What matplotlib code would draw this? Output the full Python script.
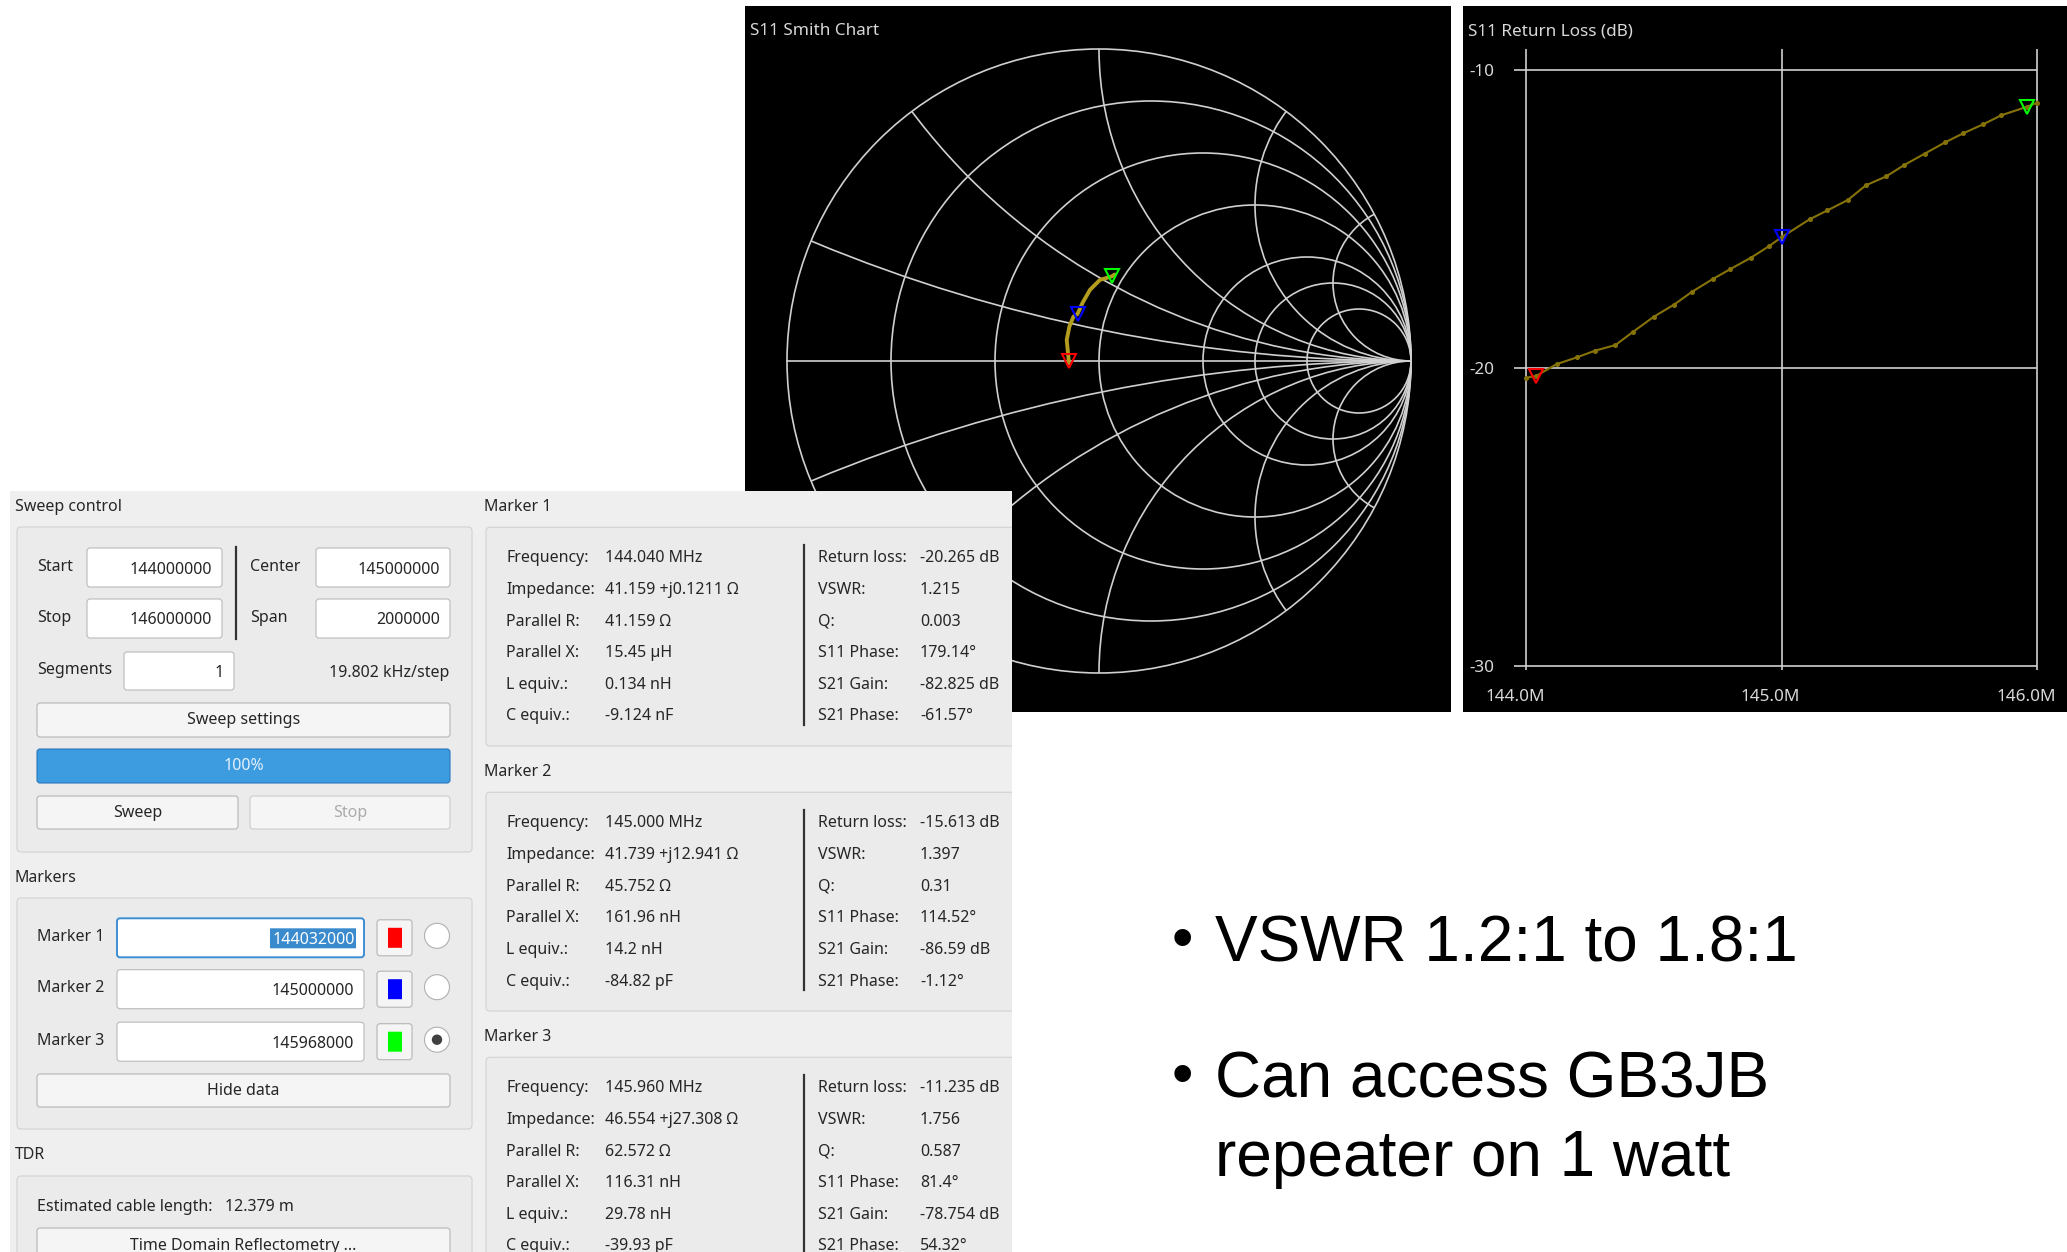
import numpy as np
import matplotlib
matplotlib.use("Agg")
import matplotlib.pyplot as plt
from matplotlib.patches import Circle, Rectangle, FancyBboxPatch

W, H, DPI = 2067, 1252, 100

# ---------------- data ----------------
# S11 trace on the Smith chart (impedance in ohms, 144 -> 146 MHz)
TRACE_R = [41.05, 41.159, 40.29, 40.41, 40.86, 41.739, 42.10, 42.64, 43.92, 46.554, 47.00]
TRACE_X = [-0.60, 0.1211, 5.51, 9.08, 11.92, 12.941, 16.30, 20.53, 24.49, 27.308, 28.30]

# S11 return loss sweep
RL_FREQ_MHZ = [144.00, 144.04, 144.12, 144.20, 144.27, 144.35, 144.42, 144.50, 144.58,
               144.65, 144.73, 144.80, 144.88, 144.95, 145.00, 145.11, 145.18, 145.26,
               145.33, 145.41, 145.48, 145.56, 145.64, 145.71, 145.79, 145.86, 145.96, 146.00]
RL_DB = [-20.33, -20.265, -19.87, -19.64, -19.42, -19.23, -18.78, -18.28, -17.87,
         -17.44, -17.02, -16.68, -16.30, -15.92, -15.613, -15.01, -14.71, -14.36,
         -13.87, -13.57, -13.19, -12.81, -12.43, -12.13, -11.82, -11.52, -11.235, -11.10]

# markers
MARKER_FREQ_MHZ = [144.040, 145.000, 145.960]
MARKER_R = [41.159, 41.739, 46.554]
MARKER_X = [0.1211, 12.941, 27.308]
MARKER_RL_DB = [-20.265, -15.613, -11.235]
MARKER_COLORS = ['#ff0000', '#0000ff', '#00ff00']
MARKER_FIELDS = ['144032000', '145000000', '145968000']

PARALLEL_R = ['41.159 Ω', '45.752 Ω', '62.572 Ω']
PARALLEL_X = ['15.45 µH', '161.96 nH', '116.31 nH']
L_EQUIV = ['0.134 nH', '14.2 nH', '29.78 nH']
C_EQUIV = ['-9.124 nF', '-84.82 pF', '-39.93 pF']
VSWR = ['1.215', '1.397', '1.756']
Q_VALUES = ['0.003', '0.31', '0.587']
S11_PHASE = ['179.14°', '114.52°', '81.4°']
S21_GAIN = ['-82.825 dB', '-86.59 dB', '-78.754 dB']
S21_PHASE = ['-61.57°', '-1.12°', '54.32°']

SMITH_R_CIRCLES = [0.2, 0.5, 1.0, 2.0, 3.0, 5.0]
SMITH_X_ARCS = [0.2, 0.5, 1.0, 2.0, 4.0]

RL_XTICKS = [144.0, 145.0, 146.0]
RL_YTICKS = [-10, -20, -30]

SWEEP_START, SWEEP_STOP = '144000000', '146000000'
SWEEP_CENTER, SWEEP_SPAN = '145000000', '2000000'
BULLETS = [["VSWR 1.2:1 to 1.8:1"], ["Can access GB3JB", "repeater on 1 watt"]]

# ---------------- style ----------------
GUI_FONT = ['Noto Sans', 'DejaVu Sans']
SLIDE_FONT = ['Liberation Sans', 'DejaVu Sans']
GUI_FS = 11.5
CHART_FS = 12.3
GRID = '#d0d0d0'
CHART_TXT = '#d8d8d8'
TRACE_C = '#b39c1e'
RL_C = '#857208'


def fig_rect(x0, y0, x1, y1):
    return [x0 / W, 1 - y1 / H, (x1 - x0) / W, (y1 - y0) / H]


def gamma(r, x, z0=50.0):
    z = (np.asarray(r) + 1j * np.asarray(x)) / z0
    return (z - 1) / (z + 1)


fig = plt.figure(figsize=(W / DPI, H / DPI), dpi=DPI, facecolor='white')

# ---------------- Smith chart ----------------
SM_L, SM_T, SM_R, SM_B = 745, 6, 1451, 712
SM_CX, SM_CY, SM_RAD = 1099, 361, 312
sm = fig.add_axes(fig_rect(SM_L, SM_T, SM_R, SM_B), zorder=1)
sm.set_facecolor('black')
sm.set_xlim(-(SM_CX - SM_L) / SM_RAD, (SM_R - SM_CX) / SM_RAD)
sm.set_ylim(-(SM_B - SM_CY) / SM_RAD, (SM_CY - SM_T) / SM_RAD)
sm.set_xticks([]); sm.set_yticks([])
for s in sm.spines.values():
    s.set_visible(False)

glw = 1.2
unit_clip = Circle((0, 0), 1.0, transform=sm.transData)
sm.add_patch(Circle((0, 0), 1.0, fill=False, ec=GRID, lw=glw))
sm.plot([-1, 1], [0, 0], color=GRID, lw=glw)
for r in SMITH_R_CIRCLES:
    sm.add_patch(Circle((r / (1 + r), 0), 1 / (1 + r), fill=False, ec=GRID, lw=glw))
for x in SMITH_X_ARCS:
    for sgn in (1, -1):
        arc = Circle((1, sgn / x), 1 / x, fill=False, ec=GRID, lw=glw)
        sm.add_patch(arc)
        arc.set_clip_path(unit_clip)

g = gamma(TRACE_R, TRACE_X)
sm.plot(g.real, g.imag, color=TRACE_C, lw=2.8, solid_capstyle='round', solid_joinstyle='round')
gm = gamma(MARKER_R, MARKER_X)
for gi, c in zip(gm, MARKER_COLORS):
    sm.plot([gi.real], [gi.imag], marker='v', ms=9.5, mfc='none', mec=c, mew=1.5)

# ---------------- Return loss chart ----------------
RL_L, RL_T, RL_R, RL_B = 1463, 6, 2067, 712
PX_F0, PX_F1 = 1526, 2037      # 144 MHz, 146 MHz
PX_D10, PX_D30 = 70, 666       # -10 dB, -30 dB
ppm = (PX_F1 - PX_F0) / 2.0
ppd = (PX_D30 - PX_D10) / 20.0
rl = fig.add_axes(fig_rect(RL_L, RL_T, RL_R, RL_B), zorder=1)
rl.set_facecolor('black')
rl.set_xlim(144 - (PX_F0 - RL_L) / ppm, 146 + (RL_R - PX_F1) / ppm)
rl.set_ylim(-30 - (RL_B - PX_D30) / ppd, -10 + (PX_D10 - RL_T) / ppd)
rl.set_xticks([]); rl.set_yticks([])
for s in rl.spines.values():
    s.set_visible(False)
rl.hlines(RL_YTICKS, 144 - 12 / ppm, 146, color=GRID, lw=glw)
rl.vlines(RL_XTICKS, -30 - 4 / ppd, -10 + 21 / ppd, color=GRID, lw=glw)
rl.plot(RL_FREQ_MHZ, RL_DB, color=RL_C, lw=1.5, marker='o', ms=2.6, mfc=RL_C, mec=RL_C)
for f, v, c in zip(MARKER_FREQ_MHZ, MARKER_RL_DB, MARKER_COLORS):
    rl.plot([f], [v], marker='v', ms=9.5, mfc='none', mec=c, mew=1.5)

# ---------------- overlay: titles, GUI panel, slide text ----------------
ov = fig.add_axes([0, 0, 1, 1], zorder=3)
ov.set_xlim(0, W); ov.set_ylim(H, 0)
ov.axis('off')


def ctext(x, y, s, **kw):
    ov.text(x, y, s, color=CHART_TXT, fontsize=CHART_FS, family=GUI_FONT, va='center', **kw)


ctext(750, 31, 'S11 Smith Chart')
ctext(1468, 31, 'S11 Return Loss (dB)')
for f in RL_XTICKS:
    ctext(PX_F0 + (f - 144) * ppm - 11, 697, f'{f:.1f}M', ha='center')
for v in RL_YTICKS:
    ctext(1469, PX_D10 + (-10 - v) * ppd + 2, f'{v}', ha='left')

BG = '#efefef'
BOX_FC = '#ebebeb'
BOX_EC = '#d2d2d2'
TXT = '#262626'
FIELD_EC = '#bababa'
BTN_FC = '#f5f5f5'
BTN_EC = '#b5b5b5'
TY = 2.0   # text baseline nudge inside the panel

panel = Rectangle((10, 491), 1002, H - 491, fc=BG, ec='none', zorder=1)
ov.add_patch(panel)


def rbox(x0, y0, x1, y1, fc, ec, lw=0.8, r=4, clip=True, z=2):
    p = FancyBboxPatch((x0, y0), x1 - x0, y1 - y0, boxstyle=f"round,pad=0,rounding_size={r}",
                       fc=fc, ec=ec, lw=lw, zorder=z)
    ov.add_patch(p)
    if clip:
        p.set_clip_path(panel)
    return p


def gtxt(x, y, s, ha='left', color=TXT, size=GUI_FS, z=6):
    t = ov.text(x, y + TY, s, ha=ha, va='center', color=color, fontsize=size,
                family=GUI_FONT, zorder=z)
    t.set_clip_path(panel)
    return t


def field(x0, y0, x1, y1, s, ec=FIELD_EC, lw=0.8):
    rbox(x0, y0, x1, y1, 'white', ec, lw=lw, r=3, z=3)
    gtxt(x1 - 10, (y0 + y1) / 2, s, ha='right')


def button(x0, y0, x1, y1, s, color=TXT, ec=BTN_EC):
    rbox(x0, y0, x1, y1, BTN_FC, ec, lw=0.8, r=3, z=3)
    gtxt((x0 + x1) / 2, (y0 + y1) / 2 - 1.5, s, ha='center', color=color)


# Sweep control
gtxt(15, 505, 'Sweep control')
rbox(17, 527, 472, 852, BOX_FC, BOX_EC)
gtxt(37, 565, 'Start')
field(87, 548, 222, 587, SWEEP_START)
gtxt(37, 616, 'Stop')
field(87, 599, 222, 638, SWEEP_STOP)
ov.plot([236, 236], [547, 639], color='#333333', lw=1.6, zorder=4)
gtxt(250, 565, 'Center')
field(316, 548, 450, 587, SWEEP_CENTER)
gtxt(250, 616, 'Span')
field(316, 599, 450, 638, SWEEP_SPAN)
gtxt(37, 668, 'Segments')
field(124, 652, 234, 690, '1')
gtxt(449, 671, '19.802 kHz/step', ha='right')
button(37, 703, 450, 737, 'Sweep settings')
rbox(37, 749, 450, 783, '#3d9be0', '#2a78bd', lw=0.8, r=3, z=3)
gtxt(243.5, 764.5, '100%', ha='center', color='#e4f1fb')
button(37, 796, 238, 829, 'Sweep')
button(250, 796, 450, 829, 'Stop', color='#ababab', ec='#cdcdcd')

# Markers
gtxt(15, 876, 'Markers')
rbox(17, 898, 472, 1129, BOX_FC, BOX_EC)
row_y = [937.8, 989.2, 1041.7]
for i, (yc, c, val) in enumerate(zip(row_y, MARKER_COLORS, MARKER_FIELDS)):
    gtxt(37, yc - 3, f'Marker {i + 1}')
    y0, y1 = yc - 19.5, yc + 19.5
    if i == 0:
        rbox(117, y0, 364, y1, 'white', '#3d8fd4', lw=1.4, r=3, z=3)
        rbox(270, yc - 9.5, 356, yc + 10.5, '#3a8bcd', 'none', lw=0, r=0, z=4)
        gtxt(355, yc, val, ha='right', color='white')
    else:
        field(117, y0, 364, y1, val)
    rbox(377, y0 + 1.5, 412, y1 - 1.5, BTN_FC, BTN_EC, lw=0.8, r=3, z=3)
    rbox(388, yc - 10, 402, yc + 10, c, 'none', lw=0, r=0, z=4)
    ov.add_patch(Circle((437, yc - 2), 12.5, fc='white', ec='#b0b0b0', lw=0.8, zorder=4))
    if i == 2:
        ov.add_patch(Circle((437, yc - 2), 5.2, fc='#404040', ec='none', zorder=5))
button(37, 1074, 450, 1107, 'Hide data')

# TDR
gtxt(15, 1153, 'TDR')
rbox(17, 1176, 472, 1320, BOX_FC, BOX_EC)
gtxt(37, 1205, 'Estimated cable length:   12.379 m')
button(37, 1228, 450, 1262, 'Time Domain Reflectometry ...')

# Marker detail groups
LEFT_LABELS = ['Frequency:', 'Impedance:', 'Parallel R:', 'Parallel X:', 'L equiv.:', 'C equiv.:']
RIGHT_LABELS = ['Return loss:', 'VSWR:', 'Q:', 'S11 Phase:', 'S21 Gain:', 'S21 Phase:']
for k in range(3):
    dy = k * 265.0
    gtxt(484, 505 + dy, f'Marker {k + 1}')
    rbox(486, 527.3 + dy, 1040, 746 + dy, BOX_FC, BOX_EC)
    ov.plot([803.5, 803.5], [545 + dy, 725 + dy], color='#333333', lw=1.6, zorder=4,
            clip_path=panel)
    left_vals = [f'{MARKER_FREQ_MHZ[k]:.3f} MHz',
                 f'{MARKER_R[k]} +j{MARKER_X[k]} Ω',
                 PARALLEL_R[k], PARALLEL_X[k], L_EQUIV[k], C_EQUIV[k]]
    right_vals = [f'{MARKER_RL_DB[k]:.3f} dB', VSWR[k], Q_VALUES[k],
                  S11_PHASE[k], S21_GAIN[k], S21_PHASE[k]]
    for i in range(6):
        y = 556.3 + i * 31.64 + dy
        gtxt(506.5, y, LEFT_LABELS[i])
        gtxt(605, y, left_vals[i])
        gtxt(817.6, y, RIGHT_LABELS[i])
        gtxt(920, y, right_vals[i])

# Slide bullet text
BULLET_FS = 46
base_y = [[962.0], [1098.0, 1176.0]]
for lines, ys in zip(BULLETS, base_y):
    ov.text(1182, ys[0] - 19, '•', ha='center', va='center', fontsize=44,
            family=SLIDE_FONT, color='black', zorder=6)
    for s, y in zip(lines, ys):
        ov.text(1215, y, s, ha='left', va='baseline', fontsize=BULLET_FS,
                family=SLIDE_FONT, color='black', zorder=6)

fig.savefig('out.png', dpi=DPI, facecolor='white')
